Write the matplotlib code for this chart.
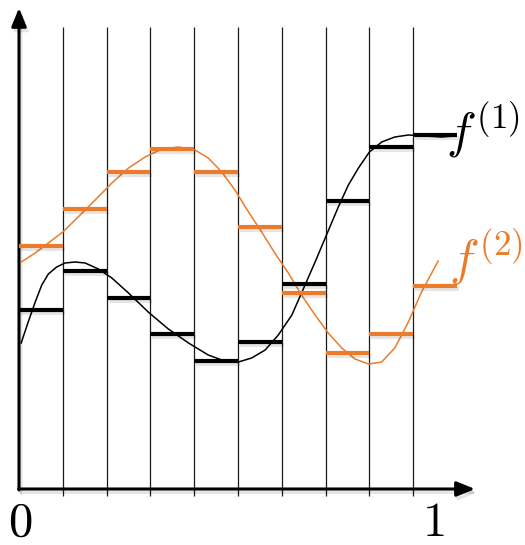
import numpy as np
import matplotlib.pyplot as plt
import matplotlib.patheffects as pe

plt.rcParams['mathtext.fontset'] = 'cm'

# ten equal bins on the horizontal axis
edges = np.arange(11)

# piecewise-constant value of each function in every bin
f1_steps = [1.79, 2.18, 1.91, 1.55, 1.28, 1.47, 2.05, 2.88, 3.42, 3.54]
f2_steps = [2.43, 2.80, 3.17, 3.40, 3.17, 2.62, 1.96, 1.36, 1.55, 2.03]

# points
f1_x = [0.05, 0.21, 0.37, 0.52, 0.67, 0.86, 1.05, 1.28, 1.51, 1.81, 2.12, 2.50,
        2.95, 3.41, 3.87, 4.32, 4.63, 5.01, 5.31, 5.62, 5.92, 6.23, 6.53, 6.76,
        7.02, 7.29, 7.52, 7.75, 8.00, 8.28, 8.58, 8.89, 9.27, 9.65, 9.95]
f1_y = [1.46, 1.67, 1.87, 2.04, 2.15, 2.22, 2.26, 2.27, 2.26, 2.20, 2.11, 1.96,
        1.77, 1.60, 1.46, 1.34, 1.29, 1.27, 1.31, 1.39, 1.54, 1.74, 2.04, 2.27,
        2.54, 2.82, 3.04, 3.21, 3.37, 3.47, 3.52, 3.54, 3.53, 3.52, 3.53]
f2_x = [0.05, 0.37, 0.67, 1.00, 1.35, 1.74, 2.12, 2.50, 2.88, 3.26, 3.64, 4.02,
        4.32, 4.63, 4.93, 5.24, 5.54, 5.84, 6.15, 6.45, 6.76, 7.06, 7.37, 7.67,
        7.98, 8.28, 8.58, 8.89, 9.19, 9.57]
f2_y = [2.27, 2.36, 2.46, 2.57, 2.72, 2.89, 3.06, 3.21, 3.32, 3.40, 3.42, 3.39,
        3.31, 3.17, 2.99, 2.77, 2.57, 2.36, 2.16, 1.94, 1.74, 1.56, 1.41, 1.30,
        1.25, 1.27, 1.41, 1.67, 1.97, 2.28]

ORANGE = '#EA7C2C'

fig = plt.figure(figsize=(5.25, 5.45), dpi=100)
ax = fig.add_axes([0, 0, 1, 1])
ax.set_xlim(-19 / 43.8, (525 - 19) / 43.8)
ax.set_ylim(-0.56, 4.89)
ax.axis('off')

# soft drop shadow like the original slide
shadow = [pe.SimpleLineShadow(offset=(1.5, -2.5), shadow_color='k', alpha=0.1),
          pe.Normal()]

# bin separators
ax.vlines(edges[1:10], -0.07, 4.62, color='#1a1a1a', lw=0.9, zorder=1)

# axes with arrow heads
arrow = dict(arrowstyle='-|>,head_length=1.1,head_width=0.45', lw=2.2,
             color='k', shrinkA=0, shrinkB=0, path_effects=shadow)
ax.annotate('', xy=(0, 4.81), xytext=(0, -0.01), arrowprops=arrow)
ax.annotate('', xy=(10.41, 0), xytext=(-0.01, 0), arrowprops=arrow)

# smooth curves
ax.plot(f1_x, f1_y, color='k', lw=1.1, zorder=3)
ax.plot(f2_x, f2_y, color=ORANGE, lw=1.1, zorder=3)

# step approximations
ax.hlines(f1_steps, edges[:-1], edges[1:], color='k', lw=3,
          capstyle='butt', zorder=4, path_effects=shadow)
ax.hlines(f2_steps, edges[:-1], edges[1:], color=ORANGE, lw=3,
          capstyle='butt', zorder=4, path_effects=shadow)

# labels
ax.text(9.75, 3.59, r'$f^{(1)}$', fontsize=36, ha='left', va='center', zorder=5)
ax.text(9.82, 2.32, r'$f^{(2)}$', fontsize=36, ha='left', va='center',
        color=ORANGE, zorder=5)
ax.text(0.02, -0.33, r'$0$', fontsize=35, ha='center', va='center')
ax.text(9.45, -0.33, r'$1$', fontsize=35, ha='center', va='center')

fig.savefig('out.png', dpi=100)
